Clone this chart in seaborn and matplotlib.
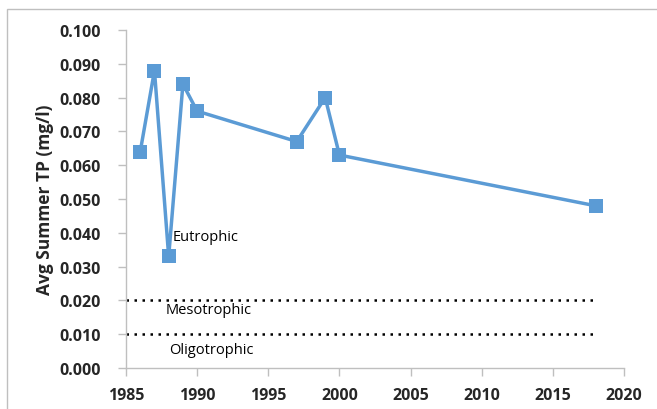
import matplotlib
matplotlib.use("Agg")
import matplotlib.pyplot as plt
import seaborn as sns
import pandas as pd
from matplotlib.patches import Rectangle

years = [1986, 1987, 1988, 1989, 1990, 1997, 1999, 2000, 2018]
tp = [0.064, 0.088, 0.033, 0.084, 0.076, 0.067, 0.080, 0.063, 0.048]
thresholds = [0.020, 0.010]
labels = ["Eutrophic", "Mesotrophic", "Oligotrophic"]
label_pos = [(1988.3, 0.0388), (1987.8, 0.0172), (1988.0, 0.0055)]

sns.set_style("white")
plt.rcParams['font.family'] = ['Open Sans', 'DejaVu Sans']

fig = plt.figure(figsize=(6.57, 4.10), dpi=100)
ax = fig.add_axes([126/657, 1 - 369/410, (624-126)/657, (369-31)/410])

df = pd.DataFrame({"Year": years, "TP": tp})
sns.lineplot(data=df, x="Year", y="TP", ax=ax, color="#5B9BD5", linewidth=2.5,
             marker="s", markersize=10, markeredgewidth=0, markerfacecolor="#5B9BD5")

for t in thresholds:
    ax.plot([1985, 2017.8], [t, t], linestyle=(0, (1, 2.2)), color="black", linewidth=1.8)

for lab, (x, y) in zip(labels, label_pos):
    ax.text(x, y, lab, fontsize=10.5, color="black", va="center", ha="left")

ax.set_xlim(1985, 2020)
ax.set_ylim(0, 0.1)
ax.set_xticks(range(1985, 2021, 5))
ax.set_yticks([i / 100 for i in range(0, 11)])
ax.set_yticklabels([f"{i/100:.3f}" for i in range(0, 11)])
ax.set_xlabel("")
ax.set_ylabel("Avg Summer TP (mg/l)", fontsize=12.5, fontweight="bold", labelpad=4)
for lbl in ax.get_xticklabels() + ax.get_yticklabels():
    lbl.set_fontweight("bold")
    lbl.set_fontsize(11.5)
ax.tick_params(axis="both", which="both", direction="out", length=6, color="#BFBFBF", width=1,
               left=True, bottom=True)
ax.tick_params(axis="y", pad=12)
ax.tick_params(axis="x", pad=8)
for s in ["top", "right"]:
    ax.spines[s].set_visible(False)
for s in ["left", "bottom"]:
    ax.spines[s].set_color("#BFBFBF")
    ax.spines[s].set_linewidth(1)

fig.patches.append(Rectangle((7/657, -0.1), 1.2, (1 - 10/410) + 0.1, transform=fig.transFigure,
                             fill=False, edgecolor="#BFBFBF", linewidth=1, zorder=0))

fig.savefig("out.png", dpi=100)
